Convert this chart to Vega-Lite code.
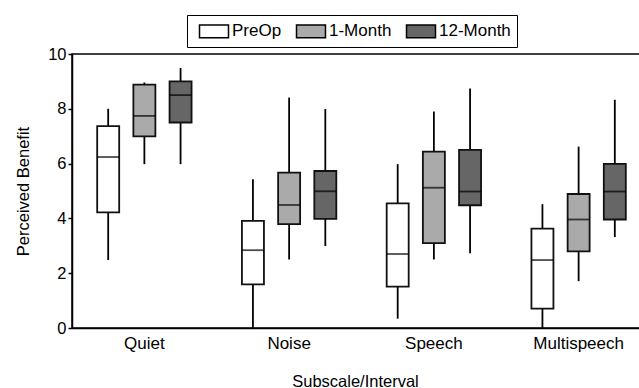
{
  "$schema": "https://vega.github.io/schema/vega-lite/v6.json",
  "width": 579,
  "height": 274,
  "padding": {"left": 15, "top": 14, "right": 0, "bottom": 0},
  "autosize": {"type": "pad"},
  "background": "white",
  "config": {
    "font": "Liberation Sans",
    "view": {"stroke": "black", "strokeWidth": 1.5},
    "axis": {"grid": false, "domainColor": "black", "domainWidth": 1.5, "tickColor": "black", "labelColor": "black", "titleColor": "black", "labelFontSize": 16.5, "titleFontSize": 16.5, "titleFontWeight": "normal"}
  },
  "data": {"values": [
    {"subscale": "Quiet", "interval": "PreOp", "lower": 2.48, "q1": 4.22, "median": 6.24, "q3": 7.37, "upper": 8.0},
    {"subscale": "Quiet", "interval": "1-Month", "lower": 5.98, "q1": 6.99, "median": 7.74, "q3": 8.88, "upper": 8.96},
    {"subscale": "Quiet", "interval": "12-Month", "lower": 5.98, "q1": 7.5, "median": 8.5, "q3": 9.0, "upper": 9.49},
    {"subscale": "Noise", "interval": "PreOp", "lower": 0.0, "q1": 1.59, "median": 2.84, "q3": 3.91, "upper": 5.43},
    {"subscale": "Noise", "interval": "1-Month", "lower": 2.5, "q1": 3.79, "median": 4.49, "q3": 5.67, "upper": 8.41},
    {"subscale": "Noise", "interval": "12-Month", "lower": 2.99, "q1": 3.98, "median": 4.99, "q3": 5.73, "upper": 7.99},
    {"subscale": "Speech", "interval": "PreOp", "lower": 0.34, "q1": 1.51, "median": 2.7, "q3": 4.55, "upper": 5.98},
    {"subscale": "Speech", "interval": "1-Month", "lower": 2.5, "q1": 3.1, "median": 5.12, "q3": 6.44, "upper": 7.9},
    {"subscale": "Speech", "interval": "12-Month", "lower": 2.73, "q1": 4.48, "median": 4.98, "q3": 6.5, "upper": 8.74},
    {"subscale": "Multispeech", "interval": "PreOp", "lower": 0.0, "q1": 0.71, "median": 2.48, "q3": 3.63, "upper": 4.52},
    {"subscale": "Multispeech", "interval": "1-Month", "lower": 1.71, "q1": 2.8, "median": 3.96, "q3": 4.89, "upper": 6.62},
    {"subscale": "Multispeech", "interval": "12-Month", "lower": 3.32, "q1": 3.96, "median": 4.98, "q3": 5.99, "upper": 8.33}
  ]},
  "encoding": {
    "x": {
      "field": "subscale", "type": "nominal",
      "sort": ["Quiet", "Noise", "Speech", "Multispeech"],
      "scale": {"paddingInner": 0, "paddingOuter": 0},
      "axis": {"title": "Subscale/Interval", "labelAngle": 0, "ticks": false, "labelPadding": 7, "titlePadding": 22, "titleX": 283, "labelFontSize": 17}
    },
    "xOffset": {
      "field": "interval", "type": "nominal",
      "sort": ["PreOp", "1-Month", "12-Month"],
      "scale": {"paddingInner": 0, "paddingOuter": 0.5}
    }
  },
  "layer": [
    {
      "mark": {"type": "rule", "color": "black", "strokeWidth": 1.8},
      "encoding": {
        "y": {"field": "lower", "type": "quantitative", "scale": {"domain": [0, 10], "nice": false},
          "axis": {"title": "Perceived Benefit", "values": [0, 2, 4, 6, 8, 10], "tickSize": 4, "tickWidth": 1.5, "labelPadding": 2, "titlePadding": 16}},
        "y2": {"field": "upper"}
      }
    },
    {
      "mark": {"type": "bar", "size": 22, "stroke": "#111111", "strokeWidth": 1.8},
      "encoding": {
        "y": {"field": "q1", "type": "quantitative"},
        "y2": {"field": "q3"},
        "fill": {
          "field": "interval", "type": "nominal",
          "sort": ["PreOp", "1-Month", "12-Month"],
          "scale": {"domain": ["PreOp", "1-Month", "12-Month"], "range": ["#ffffff", "#aaaaaa", "#666666"]},
          "legend": {
            "title": null, "orient": "none", "direction": "horizontal",
            "legendX": 115, "legendY": -39,
            "strokeColor": "black", "fillColor": "white",
            "padding": 6,
            "symbolType": "M-1.6,-0.7H1.6V0.7H-1.6Z",
            "symbolSize": 328,
            "symbolOffset": 11,
            "symbolStrokeColor": "black", "symbolStrokeWidth": 1.5,
            "symbolOpacity": 1,
            "labelFontSize": 17, "labelColor": "black", "labelOffset": 8,
            "columnPadding": 8
          }
        }
      }
    },
    {
      "mark": {"type": "tick", "color": "black", "size": 22, "thickness": 1.8},
      "encoding": {
        "y": {"field": "median", "type": "quantitative"}
      }
    }
  ]
}
